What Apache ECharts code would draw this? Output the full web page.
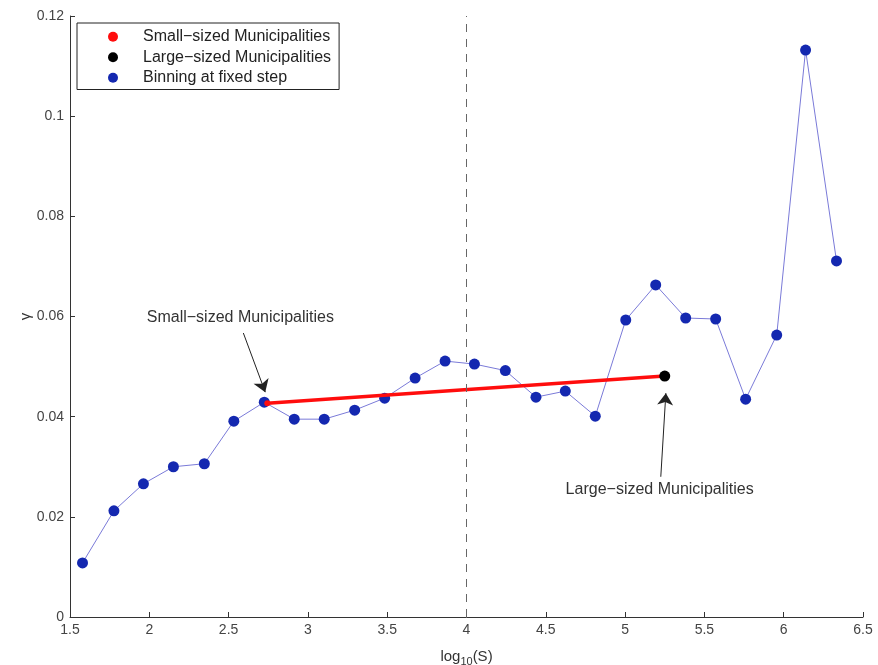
<!DOCTYPE html>
<html>
<head>
<meta charset="utf-8">
<script src="https://cdn.jsdelivr.net/npm/echarts@6/dist/echarts.min.js"></script>
<style>
    html, body { margin: 0; padding: 0; background: #fff; }
    #gamma { width: 878px; height: 665px; }
</style>
</head>
<body>
<div id="gamma"></div>
<script>
// binning at fixed step: log10(S) vs gamma
var binX = [1.579, 1.777, 1.963, 2.152, 2.347, 2.533, 2.725, 2.914, 3.103, 3.295, 3.484, 3.676, 3.865,
            4.050, 4.245, 4.438, 4.623, 4.812, 5.004, 5.193, 5.382, 5.571, 5.760, 5.956, 6.138, 6.333];
var binY = [0.0108, 0.0212, 0.0266, 0.0300, 0.0306, 0.0391, 0.0429, 0.0395, 0.0395, 0.0413, 0.0437, 0.0477, 0.0511,
            0.0505, 0.0492, 0.0439, 0.0451, 0.0401, 0.0593, 0.0663, 0.0597, 0.0595, 0.0435, 0.0563, 0.1132, 0.0711];
// small -> large sized municipalities
var smallPt = [2.744, 0.0427];
var largePt = [5.250, 0.0481];
var cutX = 4;
var xTicks = [1.5, 6.5, 0.5];
var yTicks = [0, 0.12, 0.02];
// annotation: text position, arrow start, arrow end (data coords)
var annSmall = {text: 'Small\u2212sized Municipalities', at: [2.574, 0.0597], from: [2.593, 0.0567], to: [2.731, 0.0449]};
var annLarge = {text: 'Large\u2212sized Municipalities', at: [5.218, 0.0254], from: [5.225, 0.0280], to: [5.257, 0.0447]};

window.onload = function(){
    gammaChart("gamma");
};

function gammaChart(id){
    var chart = echarts.init(document.getElementById(id));
    var binData = binX.map(function(x, i){ return [x, binY[i]]; });
    var font = 'Liberation Sans, Arial, sans-serif';
    var anns = [annSmall, annLarge];

    var option = {
        animation: false,
        textStyle: { fontFamily: font },
        grid: { left: 70, right: 15, top: 16, bottom: 48, outerBoundsMode: 'none', containLabel: false },
        legend: {
            orient: 'vertical',
            left: 77,
            top: 23,
            data: ['Small\u2212sized Municipalities', 'Large\u2212sized Municipalities', 'Binning at fixed step'],
            icon: 'circle',
            itemWidth: 50,
            itemHeight: 10,
            itemGap: 3,
            padding: [5, 8, 3, 31],
            borderColor: '#222',
            borderWidth: 1,
            textStyle: { fontSize: 16, color: '#222', lineHeight: 17.5, fontFamily: font }
        },
        xAxis: {
            type: 'value',
            min: xTicks[0], max: xTicks[1], interval: xTicks[2],
            name: '{a|log}{s|10}{a|(S)}',
            nameLocation: 'middle',
            nameGap: 30,
            nameMoveOverlap: false,
            nameTextStyle: {
                rich: {
                    a: { fontSize: 15, color: '#333', fontFamily: font },
                    s: { fontSize: 11, color: '#333', verticalAlign: 'bottom', padding: [9, 0, 0, 0], fontFamily: font }
                }
            },
            axisLine: { lineStyle: { color: '#333', width: 1 } },
            axisTick: { inside: true, length: 5, lineStyle: { color: '#333' } },
            axisLabel: { color: '#444', fontSize: 14, margin: 6 },
            splitLine: { show: false }
        },
        yAxis: {
            type: 'value',
            min: yTicks[0], max: yTicks[1], interval: yTicks[2],
            name: '\u03b3',
            nameLocation: 'middle',
            nameGap: 37,
            nameMoveOverlap: false,
            nameTextStyle: { fontSize: 15, color: '#333' },
            axisLine: { show: true, lineStyle: { color: '#333', width: 1 } },
            axisTick: { show: true, inside: true, length: 5, lineStyle: { color: '#333' } },
            axisLabel: { color: '#444', fontSize: 14, margin: 6 },
            splitLine: { show: false }
        },
        series: [
            {
                name: 'Binning at fixed step',
                type: 'line',
                data: binData,
                symbol: 'circle',
                symbolSize: 11,
                itemStyle: { color: '#1428b0' },
                lineStyle: { color: '#7a7ad8', width: 1 },
                markLine: {
                    silent: true,
                    symbol: 'none',
                    label: { show: false },
                    lineStyle: { color: '#666', type: [8, 7], width: 1 },
                    data: [{ xAxis: cutX }]
                },
                z: 2
            },
            {
                name: 'Small\u2212sized Municipalities',
                type: 'line',
                data: [smallPt, largePt],
                symbol: 'circle',
                symbolSize: 6,
                itemStyle: { color: '#ff0d0d' },
                lineStyle: { color: '#ff0d0d', width: 3.5 },
                z: 3
            },
            {
                name: 'Large\u2212sized Municipalities',
                type: 'scatter',
                data: [largePt],
                symbolSize: 11,
                itemStyle: { color: '#000', opacity: 1 },
                z: 4
            },
            {
                name: 'annotations',
                type: 'line',
                data: [],
                markLine: {
                    silent: true,
                    symbol: ['none', 'arrow'],
                    symbolSize: 12,
                    label: { show: false },
                    lineStyle: { color: '#222', type: 'solid', width: 1 },
                    data: anns.map(function(a){
                        return [{ coord: a.from }, { coord: a.to }];
                    })
                },
                markPoint: {
                    silent: true,
                    symbol: 'circle',
                    symbolSize: 1,
                    itemStyle: { color: 'rgba(0,0,0,0)' },
                    label: {
                        show: true,
                        position: 'inside',
                        color: '#333',
                        fontSize: 16,
                        fontFamily: font,
                        formatter: function(p){ return p.name; }
                    },
                    data: anns.map(function(a){
                        return { name: a.text, coord: a.at };
                    })
                }
            }
        ]
    };
    chart.setOption(option);
    window.addEventListener("resize", function(){
        chart.resize();
    });
}
</script>
</body>
</html>
